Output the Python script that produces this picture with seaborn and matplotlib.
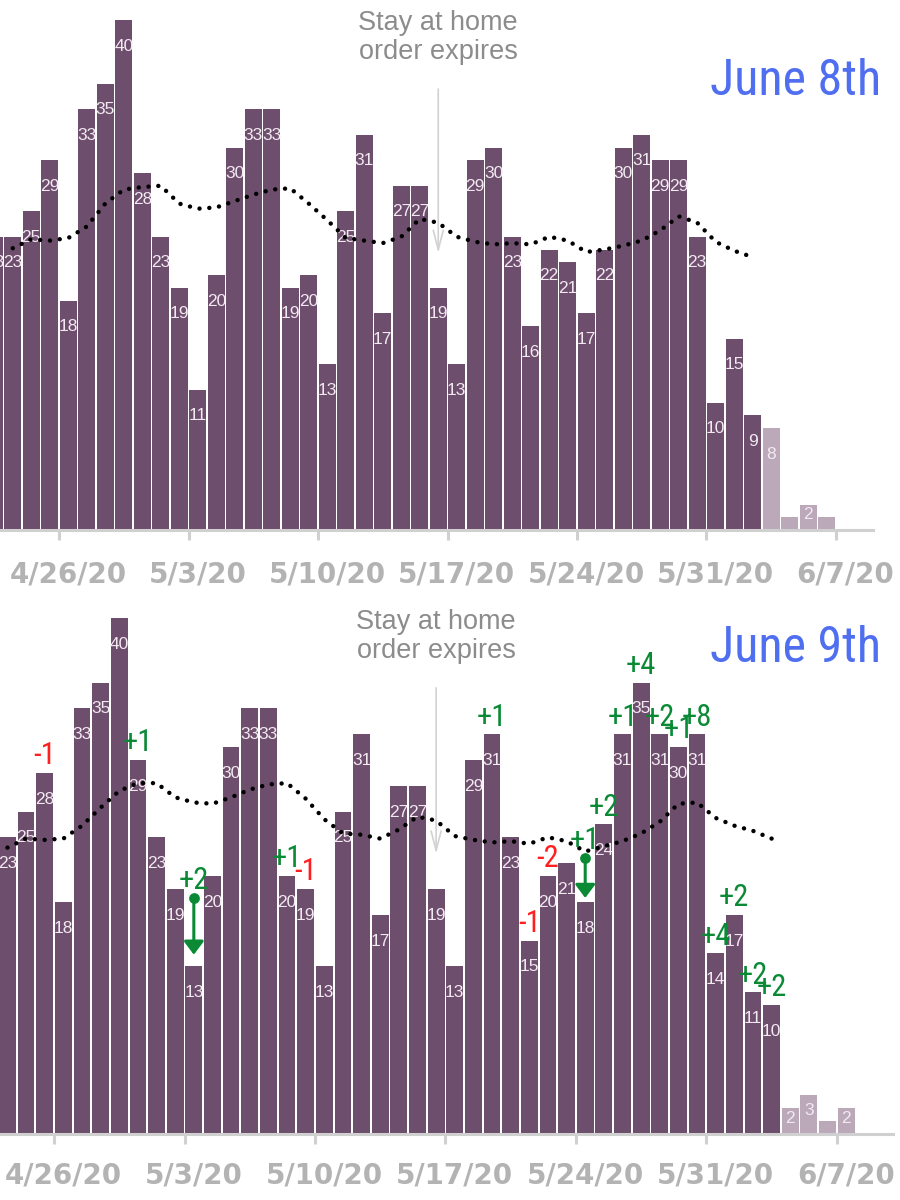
import pandas as pd
import matplotlib
matplotlib.use('Agg')
import matplotlib.pyplot as plt
from matplotlib import font_manager
import seaborn as sns

# daily counts, June 8th report (4/22 .. 6/6)
dates_jun8 = pd.date_range('2020-04-22', '2020-06-06')
counts_jun8 = [23, 23, 25, 29, 18, 33, 35, 40, 28, 23, 19, 11, 20, 30, 33, 33, 19, 20, 13,
               25, 31, 17, 27, 27, 19, 13, 29, 30, 23, 16, 22, 21, 17, 22, 30, 31, 29, 29, 23,
               10, 15, 9, 8, 1, 2, 1]
n_final_jun8 = 42  # bars from 6/3 on are still incomplete (light)

# daily counts, June 9th report (4/23 .. 6/7)
dates_jun9 = pd.date_range('2020-04-23', '2020-06-07')
counts_jun9 = [23, 25, 28, 18, 33, 35, 40, 29, 23, 19, 13, 20, 30, 33, 33, 20, 19, 13,
               25, 31, 17, 27, 27, 19, 13, 29, 31, 23, 15, 20, 21, 18, 24, 31, 35, 31, 30, 31,
               14, 17, 11, 10, 2, 3, 1, 2]
n_final_jun9 = 42

# moving average (dotted line)
ma_dates_jun8 = pd.date_range('2020-04-23', '2020-06-02')
ma_jun8 = [22.1, 22.8, 22.7, 22.9, 23.8, 25.6, 26.7, 26.9, 27.0, 25.6, 25.2, 25.3, 25.8, 26.3,
           26.7, 26.8, 25.6, 24.3, 22.9, 22.7, 22.5, 23.0, 24.4, 24.1, 23.0, 22.6, 22.4, 22.5,
           22.4, 23.0, 22.7, 21.8, 22.0, 22.3, 22.7, 23.5, 24.6, 24.1, 22.6, 21.9, 21.4]
ma_dates_jun9 = pd.date_range('2020-04-23', '2020-06-03')
ma_jun9 = [22.2, 22.9, 22.8, 22.9, 23.9, 25.3, 26.6, 27.2, 27.2, 26.1, 25.7, 25.6, 26.1, 26.7,
           27.1, 27.2, 26.0, 24.4, 23.3, 23.2, 22.9, 23.6, 24.6, 24.3, 23.1, 22.8, 22.6, 22.7,
           22.5, 23.0, 22.7, 21.9, 22.3, 22.7, 23.3, 24.2, 25.6, 25.7, 24.5, 23.9, 23.5, 22.9]

# changes between the two reports
change_dates = ['2020-04-25', '2020-04-30', '2020-05-03', '2020-05-08', '2020-05-09',
                '2020-05-19', '2020-05-21', '2020-05-22', '2020-05-24', '2020-05-25',
                '2020-05-26', '2020-05-27', '2020-05-28', '2020-05-29', '2020-05-30',
                '2020-05-31', '2020-06-01', '2020-06-02', '2020-06-03']
change_text = ['-1', '+1', '+2', '+1', '-1', '+1', '-1', '-2', '+1', '+2', '+1', '+4', '+2',
               '+1', '+8', '+4', '+2', '+2', '+2']
# bars whose increase is drawn with an arrow (from, to)
arrow_dates = ['2020-05-03', '2020-05-24']
arrow_from = [18.3, 21.4]
arrow_to = [13.9, 18.3]

tick_dates = ['2020-04-26', '2020-05-03', '2020-05-10', '2020-05-17', '2020-05-24',
              '2020-05-31', '2020-06-07']
tick_labels = ['4/26/20', '5/3/20', '5/10/20', '5/17/20', '5/24/20', '5/31/20', '6/7/20']
expiry_date = '2020-05-16'

dark = '#6d4e6d'
light = '#bba9ba'
green = '#0a8a35'
red = '#ff1f1f'
blue = '#4f6ef0'
ref = pd.Timestamp('2020-04-26')


def day(d):
    return (pd.Timestamp(d) - ref).days


names = {f.name for f in font_manager.fontManager.ttflist}
narrow = 'DejaVu Sans'
for cand in ['Liberation Sans Narrow', 'Roboto Condensed', 'Open Sans Condensed', 'DejaVu Sans Condensed']:
    if cand in names:
        narrow = cand
        break

sns.set_theme(style='white')
plt.rcParams['font.family'] = ['Liberation Sans', 'DejaVu Sans']

fig = plt.figure(figsize=(9, 12), dpi=100)
ax1 = fig.add_axes([0, 670 / 1200, 1, 530 / 1200])
ax2 = fig.add_axes([0, 66 / 1200, 1, 534 / 1200])


def draw_panel(ax, dates, counts, n_final, ma_dates, ma, title, title_y, xlim, ylim, spine_end, pad):
    x = [day(d) + 0.5 for d in dates]
    sns.barplot(x=x[:n_final], y=counts[:n_final], native_scale=True, color=dark,
                saturation=1, width=0.9, linewidth=0, errorbar=None, ax=ax)
    sns.barplot(x=x[n_final:], y=counts[n_final:], native_scale=True, color=light,
                saturation=1, width=0.9, linewidth=0, errorbar=None, ax=ax)
    for xi, v in zip(x, counts):
        if v < 2:
            continue
        ax.text(xi, v - min(2.05, 0.4 * v), str(v), ha='center', va='center',
                fontsize=12.5, color='#f3e9f1', zorder=4)
    sns.lineplot(x=[day(d) + 0.5 for d in ma_dates], y=ma, color='black', ax=ax,
                 linewidth=3.2, zorder=5)
    ln = ax.lines[-1]
    ln.set_linestyle((0, (0.01, 2.2)))
    ln.set_dash_capstyle('round')

    xe = day(expiry_date) + 0.5
    ax.text(xe, 38.6, 'Stay at home\norder expires', ha='center', va='center',
            fontsize=19.5, color='#8c8c8c', linespacing=1.15)
    ax.annotate('', xy=(xe, 21.5), xytext=(xe, 34.8),
                arrowprops=dict(arrowstyle='->,head_length=0.7,head_width=0.18',
                                color='#d2d2d2', lw=1.2, mutation_scale=20))
    ax.text(39.8, title_y, title, ha='center', va='center', fontsize=36, color=blue,
            family=narrow)

    ax.set_xlim(*xlim)
    ax.set_ylim(*ylim)
    sns.despine(ax=ax, left=True)
    ax.spines['bottom'].set_color('#d0d0d0')
    ax.spines['bottom'].set_linewidth(2.2)
    ax.spines['bottom'].set_bounds(xlim[0], spine_end)
    ax.set_yticks([])
    ax.set_xticks([day(d) + 0.5 for d in tick_dates])
    ax.set_xticklabels(tick_labels)
    ax.set_xticks([day(d) for d in tick_dates], minor=True)
    ax.tick_params(axis='x', which='major', length=0, pad=pad, labelsize=20,
                   labelcolor='#b3b3b3')
    for lab in ax.get_xticklabels():
        lab.set_family('DejaVu Sans')
        lab.set_fontweight('bold')
    ax.tick_params(axis='x', which='minor', bottom=True, length=7, width=2.2,
                   color='#d0d0d0')
    ax.set_xlabel('')
    ax.set_ylabel('')


draw_panel(ax1, dates_jun8, counts_jun8, n_final_jun8, ma_dates_jun8, ma_jun8,
           'June 8th', 35.2, (-3.19, 45.46), (0, 530 / 12.75), 44.0, 22)
draw_panel(ax2, dates_jun9, counts_jun9, n_final_jun9, ma_dates_jun9, ma_jun9,
           'June 9th', 37.7, (-2.90, 45.39), (0, 534 / 12.9), 45.0, 20)

# change annotations on the June 9th panel
val9 = dict(zip([d.strftime('%Y-%m-%d') for d in dates_jun9], counts_jun9))
arrow_start = dict(zip(arrow_dates, arrow_from))
for d, t in zip(change_dates, change_text):
    base = arrow_start.get(d, val9[d])
    ax2.text(day(d) + 0.5, base + 0.2, t, ha='center', va='bottom', fontsize=22,
             color=red if t.startswith('-') else green, family=narrow, zorder=6)
for d, a, b in zip(arrow_dates, arrow_from, arrow_to):
    xa = day(d) + 0.5
    ax2.annotate('', xy=(xa, b), xytext=(xa, a),
                 arrowprops=dict(arrowstyle='-|>,head_length=0.4,head_width=0.3',
                                 color=green, lw=2.2, mutation_scale=20,
                                 shrinkA=0, shrinkB=0), zorder=6)
    ax2.scatter([xa], [a], s=60, color=green, zorder=7, linewidths=0)

fig.savefig('out.png', dpi=100)
